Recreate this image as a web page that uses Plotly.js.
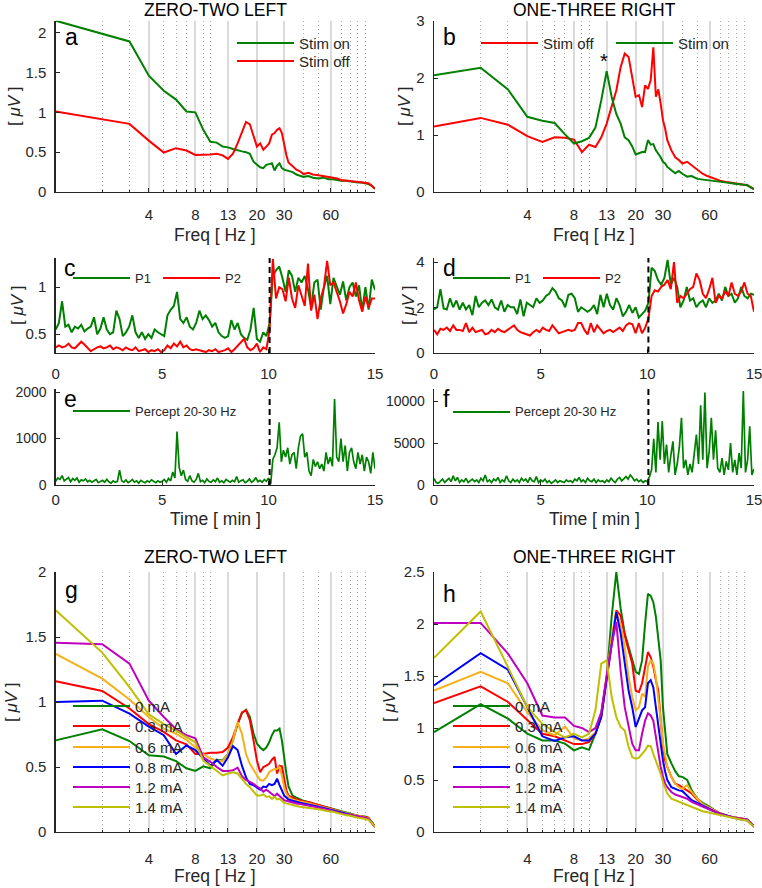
<!DOCTYPE html>
<html>
<head>
<meta charset="utf-8">
<script src="https://cdn.plot.ly/plotly-3.0.1.min.js"></script>
<style>html,body{margin:0;padding:0;background:#fff}#chart{width:762px;height:888px}</style>
</head>
<body>
<div id="chart"></div>
<script>
// ---------------- DATA ----------------
const freqHz = [1,2,3,4,5,6,7,8,9,10,11,12,13,14,15,16,17,18,19,20,21,22,23,24,25,26,27,28,29,30,31,32,
  34,36,38,40,43,46,50,54,58,62,66,70,75,80,85,90,95,100,105,110,116];
const freqTicks = [4,8,13,20,30,60];
const freqTickText = ['4','8','13','20','30','60'];
const freqMinorGrid = [2,3,5,6,7,9,10,40,50,70,80,90,100];
const timeTicks = [0,5,10,15];
const stimOnsetMin = 10.05;

// Panel a: ZERO-TWO LEFT
const leftStimOn = [2.15,1.98,1.89,1.46,1.27,1.16,1.01,1.00,0.78,0.63,
  0.62,0.57,0.56,0.54,0.52,0.51,0.50,0.48,0.38,0.34,
  0.31,0.30,0.34,0.35,0.36,0.27,0.33,0.36,0.30,0.28,
  0.27,0.26,0.25,0.22,0.20,0.19,0.20,0.18,0.17,0.18,
  0.16,0.16,0.15,0.14,0.14,0.13,0.13,0.12,0.12,0.11,
  0.10,0.08,0.04];
const leftStimOff = [1.01,0.91,0.855,0.645,0.495,0.55,0.52,0.465,0.465,0.47,
  0.48,0.46,0.415,0.48,0.61,0.76,0.88,0.85,0.72,0.57,
  0.61,0.53,0.57,0.61,0.72,0.74,0.78,0.80,0.74,0.59,
  0.465,0.37,0.32,0.28,0.26,0.225,0.24,0.22,0.21,0.20,
  0.19,0.18,0.17,0.15,0.145,0.14,0.135,0.13,0.12,0.115,
  0.11,0.085,0.04];
// Panel b: ONE-THREE RIGHT
const rightStimOff = [1.15,1.30,1.18,0.98,0.88,0.96,0.95,0.92,0.70,0.83,
  0.79,0.96,1.20,1.49,1.78,2.19,2.43,2.37,1.99,1.67,
  1.70,1.49,1.87,1.81,1.96,2.54,1.67,1.80,1.55,1.26,
  1.11,0.91,0.73,0.61,0.56,0.50,0.53,0.47,0.38,0.32,
  0.28,0.25,0.23,0.20,0.18,0.17,0.15,0.14,0.14,0.13,
  0.12,0.09,0.05];
const rightStimOn = [2.05,2.18,1.80,1.32,1.25,1.21,1.01,0.85,0.89,0.95,
  1.13,1.61,2.12,1.67,1.37,1.20,0.96,0.91,0.80,0.66,
  0.68,0.70,0.70,0.91,0.83,0.84,0.73,0.67,0.61,0.53,
  0.50,0.44,0.38,0.33,0.37,0.32,0.27,0.28,0.23,0.22,
  0.21,0.20,0.19,0.19,0.17,0.16,0.15,0.14,0.14,0.13,
  0.12,0.08,0.05];

// Panels c-f: time courses (sampling step given in traces)
const leftP1 = [0.55,0.62,0.85,0.58,0.60,0.52,0.58,0.56,0.60,0.53,
  0.56,0.58,0.68,0.50,0.56,0.68,0.55,0.50,0.52,0.75,
  0.66,0.48,0.52,0.58,0.70,0.52,0.46,0.52,0.45,0.50,
  0.46,0.55,0.52,0.50,0.48,0.70,0.76,0.80,0.95,0.66,
  0.62,0.68,0.58,0.55,0.62,0.75,0.66,0.70,0.65,0.58,
  0.62,0.52,0.48,0.46,0.48,0.65,0.55,0.62,0.50,0.46,
  0.44,0.55,0.78,0.45,0.42,0.52,0.48,0.62,1.12,1.18,
  1.22,1.10,0.95,1.18,1.12,0.95,1.10,1.05,1.12,0.98,
  0.78,1.05,1.08,0.76,1.00,1.12,0.82,1.10,1.02,0.92,
  1.06,0.86,1.00,1.05,0.90,1.02,0.75,1.00,0.76,1.08,
  0.97];
const leftP2 = [0.36,0.38,0.36,0.37,0.40,0.36,0.35,0.38,0.42,0.39,
  0.36,0.32,0.34,0.36,0.37,0.35,0.36,0.38,0.34,0.36,
  0.35,0.33,0.36,0.34,0.33,0.36,0.32,0.33,0.34,0.31,
  0.33,0.32,0.34,0.31,0.33,0.38,0.35,0.40,0.37,0.42,
  0.36,0.38,0.34,0.33,0.34,0.33,0.32,0.31,0.33,0.32,
  0.34,0.31,0.32,0.33,0.35,0.31,0.34,0.38,0.42,0.45,
  0.36,0.33,0.35,0.40,0.31,0.36,0.34,0.55,1.30,0.88,
  1.00,0.98,0.85,1.10,0.88,0.78,1.02,0.90,0.80,1.25,
  0.75,0.92,0.66,0.88,1.00,1.28,1.02,1.05,0.95,0.85,
  0.72,0.82,0.95,0.90,1.05,0.86,0.74,0.90,0.78,0.88,
  0.88];
const rightP1 = [1.90,2.00,2.80,1.95,1.90,2.40,2.00,2.30,1.90,2.20,
  1.90,2.10,1.65,2.50,2.00,2.20,2.30,2.10,2.35,2.00,
  1.90,2.30,1.80,2.10,2.00,2.00,1.70,2.35,1.60,2.20,
  2.10,2.00,2.40,2.20,2.30,2.50,2.60,2.85,2.70,2.40,
  2.30,2.00,2.55,2.60,2.40,1.80,2.00,1.90,1.80,1.90,
  2.10,1.70,2.55,2.00,2.60,2.10,1.90,2.40,2.10,1.60,
  1.80,2.10,1.75,2.00,1.55,1.70,1.85,2.20,3.75,3.60,
  3.20,3.00,3.30,4.10,3.00,3.30,2.90,2.00,2.30,2.90,
  2.30,2.40,2.00,2.20,2.30,2.00,2.40,2.20,2.30,2.60,
  2.30,2.90,2.50,2.60,2.20,2.40,2.90,2.50,2.40,2.60,
  2.55];
const rightP2 = [1.00,0.80,1.05,1.00,1.10,0.95,1.20,1.00,1.00,0.95,
  1.30,0.90,1.10,0.90,0.95,1.00,0.80,0.85,1.00,0.90,
  1.05,0.95,0.90,1.00,1.10,1.20,1.00,0.90,0.85,0.80,
  0.75,0.90,1.00,0.90,1.10,1.00,0.95,1.20,1.00,0.85,
  0.90,0.95,1.00,0.95,1.00,1.30,1.30,1.00,0.80,1.30,
  0.90,1.20,1.00,0.85,0.95,1.00,0.90,1.00,1.10,0.95,
  1.20,1.30,1.25,0.85,1.30,0.85,1.10,1.50,2.50,2.75,
  2.70,2.90,3.00,3.20,2.80,4.00,2.20,2.50,2.40,2.60,
  2.80,2.90,3.50,3.20,2.60,2.40,2.80,3.30,2.20,2.50,
  2.40,2.70,2.50,3.10,2.60,2.50,2.70,3.10,2.60,2.50,
  1.80];
const leftPercept = [80,150,120,200,90,130,160,70,140,100,
  150,60,110,90,130,70,100,60,90,120,
  50,80,100,60,120,70,40,90,60,80,
  320,90,60,110,50,80,120,60,90,40,
  100,70,50,90,60,110,70,50,90,60,
  80,120,60,140,90,280,150,1150,380,200,
  320,120,80,200,90,60,120,250,70,100,
  50,130,80,60,110,70,150,60,90,50,
  120,80,60,100,70,180,60,90,110,50,
  80,130,60,90,160,70,100,60,120,80,
  150,20,550,650,800,1350,500,750,600,800,
  450,650,700,350,800,1050,1100,600,700,300,
  200,550,400,500,350,450,300,700,450,600,
  400,1850,600,500,1000,500,850,300,700,800,
  500,350,700,450,650,300,600,500,250,700,
  350];
const rightPercept = [800,300,200,500,700,300,600,800,400,1100,
  500,900,300,600,400,800,300,500,700,400,
  600,300,800,500,1200,400,600,300,700,500,
  900,300,600,400,1100,500,300,700,400,600,
  300,800,500,700,300,900,500,400,1000,300,
  600,400,700,300,500,200,400,600,300,500,
  400,300,600,400,500,300,700,500,900,400,
  600,300,800,500,400,700,300,600,400,500,
  300,600,400,800,500,300,700,900,500,800,
  1000,700,1200,900,500,700,400,600,300,500,
  400,1000,1800,5500,1500,7500,3000,7600,2500,4800,
  1500,3500,5200,1200,2500,4500,8000,2000,3000,1200,
  2500,1500,3500,6000,2500,9500,3000,11000,2000,4000,
  8000,3000,6500,2000,1500,3200,1200,2800,1800,5000,
  1500,3000,1200,3800,2000,11200,1500,3000,7000,1200,
  1900];

// Panel g: ZERO-TWO LEFT, amplitudes
const ampLabels = ['0 mA','0.3 mA','0.6 mA','0.8 mA','1.2 mA','1.4 mA'];
const left0mA = [0.705,0.79,0.70,0.59,0.58,0.545,0.49,0.47,0.505,0.49,
  0.555,0.55,0.60,0.705,0.83,0.915,0.94,0.885,0.76,0.68,
  0.65,0.63,0.65,0.69,0.745,0.78,0.78,0.795,0.705,0.56,
  0.45,0.35,0.28,0.265,0.25,0.24,0.23,0.22,0.21,0.20,
  0.19,0.18,0.17,0.16,0.15,0.14,0.13,0.125,0.12,0.12,
  0.11,0.08,0.04];
const left03mA = [1.16,1.085,0.95,0.83,0.77,0.705,0.675,0.60,0.60,0.61,
  0.61,0.615,0.65,0.73,0.83,0.92,0.935,0.86,0.705,0.55,
  0.46,0.50,0.51,0.525,0.556,0.577,0.45,0.51,0.505,0.40,
  0.32,0.28,0.265,0.25,0.245,0.235,0.23,0.22,0.21,0.20,
  0.185,0.175,0.165,0.155,0.145,0.135,0.13,0.125,0.12,0.115,
  0.11,0.08,0.04];
const left06mA = [1.37,1.18,1.02,0.885,0.795,0.755,0.71,0.655,0.60,0.565,
  0.55,0.545,0.60,0.705,0.845,0.755,0.60,0.525,0.475,0.435,
  0.40,0.395,0.42,0.46,0.475,0.485,0.485,0.50,0.435,0.345,
  0.295,0.27,0.25,0.24,0.235,0.23,0.22,0.21,0.20,0.19,
  0.18,0.17,0.16,0.155,0.145,0.135,0.13,0.125,0.12,0.115,
  0.105,0.08,0.04];
const left08mA = [1.00,1.01,0.91,0.81,0.745,0.60,0.665,0.63,0.565,0.51,
  0.555,0.51,0.575,0.66,0.63,0.51,0.42,0.37,0.36,0.345,
  0.325,0.35,0.345,0.37,0.36,0.37,0.41,0.36,0.315,0.28,
  0.265,0.25,0.24,0.23,0.225,0.22,0.21,0.205,0.195,0.185,
  0.175,0.165,0.155,0.15,0.14,0.13,0.125,0.12,0.115,0.11,
  0.10,0.08,0.04];
const left12mA = [1.455,1.445,1.295,1.01,0.885,0.79,0.745,0.72,0.575,0.54,
  0.50,0.47,0.47,0.475,0.495,0.43,0.40,0.385,0.37,0.35,
  0.335,0.31,0.325,0.31,0.295,0.275,0.295,0.28,0.26,0.245,
  0.24,0.235,0.225,0.22,0.215,0.21,0.205,0.20,0.19,0.18,
  0.17,0.16,0.155,0.145,0.135,0.13,0.125,0.12,0.115,0.11,
  0.10,0.075,0.04];
const left14mA = [1.705,1.38,1.115,0.905,0.83,0.78,0.73,0.69,0.55,0.51,
  0.47,0.435,0.45,0.46,0.45,0.41,0.37,0.345,0.315,0.28,
  0.28,0.29,0.27,0.275,0.255,0.27,0.25,0.255,0.24,0.225,
  0.22,0.215,0.21,0.20,0.195,0.19,0.185,0.18,0.175,0.165,
  0.16,0.155,0.145,0.14,0.13,0.125,0.115,0.11,0.105,0.10,
  0.095,0.075,0.04];
// Panel h: ONE-THREE RIGHT, amplitudes
const right0mA = [0.96,1.23,1.09,0.945,0.88,0.88,0.85,0.785,0.815,0.79,
  0.945,1.14,1.49,2.07,2.50,2.15,1.91,1.78,1.65,1.54,
  1.52,1.65,2.00,2.29,2.27,2.21,2.07,1.875,1.65,1.20,
  0.945,0.75,0.66,0.585,0.535,0.53,0.50,0.40,0.32,0.28,
  0.255,0.225,0.20,0.18,0.165,0.15,0.14,0.135,0.13,0.125,
  0.12,0.09,0.055];
const right03mA = [1.24,1.40,1.25,1.075,0.945,0.92,0.88,0.845,0.845,0.865,
  0.945,1.105,1.49,1.84,2.13,2.08,1.89,1.75,1.62,1.36,
  1.345,1.43,1.59,1.73,1.68,1.59,1.46,1.36,1.075,0.82,
  0.69,0.625,0.53,0.465,0.45,0.43,0.40,0.37,0.31,0.265,
  0.245,0.22,0.20,0.18,0.16,0.15,0.14,0.135,0.13,0.125,
  0.115,0.09,0.05];
const right06mA = [1.36,1.54,1.43,1.15,0.98,0.93,1.015,0.90,0.88,0.90,
  0.96,1.14,1.49,1.875,2.115,2.00,1.78,1.49,1.30,1.17,
  1.20,1.33,1.30,1.59,1.65,1.62,1.49,1.30,1.075,0.85,
  0.72,0.625,0.53,0.465,0.43,0.415,0.45,0.385,0.32,0.27,
  0.245,0.22,0.20,0.18,0.16,0.15,0.14,0.135,0.13,0.125,
  0.115,0.09,0.05];
const right08mA = [1.41,1.72,1.56,1.20,0.92,0.875,0.91,0.92,0.88,0.88,
  0.945,1.105,1.46,1.78,2.115,1.91,1.62,1.36,1.20,1.01,
  1.09,1.17,1.20,1.43,1.46,1.39,1.20,1.01,0.82,0.69,
  0.58,0.50,0.43,0.415,0.40,0.395,0.35,0.305,0.28,0.255,
  0.225,0.21,0.19,0.175,0.16,0.15,0.14,0.13,0.125,0.12,
  0.11,0.085,0.05];
const right12mA = [2.01,2.01,1.715,1.43,1.12,1.10,1.10,1.02,1.00,0.96,
  1.00,1.15,1.50,1.80,2.02,1.55,1.20,1.01,0.85,0.785,
  0.785,0.945,1.07,1.14,1.12,1.07,0.91,0.75,0.625,0.53,
  0.465,0.43,0.385,0.36,0.35,0.335,0.32,0.29,0.27,0.245,
  0.225,0.21,0.19,0.175,0.16,0.15,0.14,0.135,0.13,0.13,
  0.12,0.09,0.05];
const right14mA = [1.675,2.12,1.585,1.20,1.04,0.96,0.91,0.945,0.91,0.945,
  1.17,1.62,1.65,1.30,1.105,1.01,0.975,0.82,0.72,0.705,
  0.715,0.75,0.785,0.83,0.825,0.75,0.69,0.625,0.56,0.48,
  0.415,0.37,0.32,0.305,0.29,0.28,0.255,0.24,0.22,0.20,
  0.19,0.18,0.17,0.16,0.15,0.14,0.13,0.125,0.12,0.115,
  0.11,0.08,0.05];

// ---------------- STYLE ----------------
const W = 762, H = 888;
const px = v => v / W;
const py = v => 1 - v / H;
const FONT = 'Liberation Sans, Arial, Helvetica, sans-serif';
const AX = '#262626';
const GREEN = '#008000', RED = '#ff0000', ORANGE = '#f5b01a', BLUE = '#0000ff', MAGENTA = '#c000c0', OLIVE = '#bfbf00';
const ampColors = [GREEN, RED, ORANGE, BLUE, MAGENTA, OLIVE];

function baseAxis(extra) {
  return Object.assign({
    showline: true, linecolor: AX, linewidth: 1.3, ticks: 'inside', ticklen: 4, tickwidth: 1, tickcolor: AX,
    showgrid: false, zeroline: false, tickfont: {family: FONT, size: 15, color: AX}, fixedrange: true,
    ticklabeloverflow: 'allow'
  }, extra);
}
function freqAxis(dom, anchor, standoff) {
  return baseAxis({
    type: 'log', domain: dom, anchor: anchor, range: [0, Math.log10(116)],
    tickmode: 'array', tickvals: freqTicks, ticktext: freqTickText,
    showgrid: true, gridcolor: '#dadada', gridwidth: 2, ticklabelstandoff: standoff,
    minor: {tickmode: 'array', tickvals: freqMinorGrid, ticks: 'inside', ticklen: 2.5, tickcolor: AX,
            showgrid: true, gridcolor: '#a8a8a8', gridwidth: 1, griddash: '1px,3px'}
  });
}
function timeAxis(dom, anchor, standoff) {
  return baseAxis({domain: dom, anchor: anchor, range: [0, 15], tickmode: 'array', tickvals: timeTicks, ticklabelstandoff: standoff});
}
function valAxis(dom, anchor, range, ticks, extra) {
  return baseAxis(Object.assign({domain: dom, anchor: anchor, range: range, tickmode: 'array', tickvals: ticks, ticklabelstandoff: 5}, extra || {}));
}

const XL = [px(55.7), px(375)], XR = [px(434), px(754)];

function line(x, y, xa, ya, color, w, name) {
  return {type: 'scatter', mode: 'lines', x: x, y: y, xaxis: xa, yaxis: ya, name: name,
          line: {color: color, width: w || 2}, showlegend: false, hoverinfo: 'skip'};
}
function tline(y, dx, xa, ya, color, w, name) {
  return {type: 'scatter', mode: 'lines', x0: 0, dx: dx, y: y, xaxis: xa, yaxis: ya, name: name,
          line: {color: color, width: w || 1.8}, showlegend: false, hoverinfo: 'skip'};
}

const traces = [
  line(freqHz, leftStimOn, 'x', 'y', GREEN, 2, 'Stim on'),
  line(freqHz, leftStimOff, 'x', 'y', RED, 2, 'Stim off'),
  line(freqHz, rightStimOff, 'x2', 'y2', RED, 2, 'Stim off'),
  line(freqHz, rightStimOn, 'x2', 'y2', GREEN, 2, 'Stim on'),
  tline(leftP1, 0.15, 'x3', 'y3', GREEN, 2, 'P1'),
  tline(leftP2, 0.15, 'x3', 'y3', RED, 2, 'P2'),
  tline(rightP1, 0.15, 'x4', 'y4', GREEN, 2, 'P1'),
  tline(rightP2, 0.15, 'x4', 'y4', RED, 2, 'P2'),
  tline(leftPercept, 0.1, 'x5', 'y5', GREEN, 1.7, 'Percept 20-30 Hz'),
  tline(rightPercept, 0.1, 'x6', 'y6', GREEN, 1.7, 'Percept 20-30 Hz')
];
const leftAmp = [left0mA, left03mA, left06mA, left08mA, left12mA, left14mA];
const rightAmp = [right0mA, right03mA, right06mA, right08mA, right12mA, right14mA];
leftAmp.forEach((s, i) => traces.push(line(freqHz, s, 'x7', 'y7', ampColors[i], 2, ampLabels[i])));
rightAmp.forEach((s, i) => traces.push(line(freqHz, s, 'x8', 'y8', ampColors[i], 2, ampLabels[i])));

// ---------------- ANNOTATIONS & SHAPES ----------------
const annotations = [];
const shapes = [];
function txt(text, x, y, size, opts) {
  annotations.push(Object.assign({text: text, xref: 'paper', yref: 'paper', x: px(x), y: py(y),
    showarrow: false, xanchor: 'center', yanchor: 'middle', font: {family: FONT, size: size, color: '#000'}}, opts || {}));
}
function legLine(x0, x1, y, color) {
  shapes.push({type: 'line', xref: 'paper', yref: 'paper', x0: px(x0), x1: px(x1), y0: py(y), y1: py(y),
    line: {color: color, width: 2}});
}
function legItem(x0, y, color, label, size) {
  legLine(x0, x0 + 57, y, color);
  txt(label, x0 + 60, y, size, {xanchor: 'left', font: {family: FONT, size: size, color: AX}});
}
// panel titles
txt('ZERO-TWO LEFT', 215, 10, 17.5, {font: {family: FONT, size: 17.5, color: '#000'}});
txt('ONE-THREE RIGHT', 594, 10, 17.5, {font: {family: FONT, size: 17.5, color: '#000'}});
txt('ZERO-TWO LEFT', 215, 556.5, 17.5, {font: {family: FONT, size: 17.5, color: '#000'}});
txt('ONE-THREE RIGHT', 594, 556.5, 17.5, {font: {family: FONT, size: 17.5, color: '#000'}});
// axis titles
const yt = '[ <i>μV</i> ]';
[[14, 106], [404, 106], [17, 305], [408, 305], [11, 702], [389, 702]].forEach(p =>
  txt(yt, p[0], p[1], 17, {textangle: -90, font: {family: FONT, size: 17, color: AX}}));
[[215, 234.5, 'Freq [ Hz ]'], [594, 234.5, 'Freq [ Hz ]'], [215, 519, 'Time [ min ]'], [594, 519, 'Time [ min ]'],
 [215, 876, 'Freq [ Hz ]'], [594, 876, 'Freq [ Hz ]']].forEach(p =>
  txt(p[2], p[0], p[1], 17.5, {font: {family: FONT, size: 17.5, color: AX}}));
// panel letters
[['a', 71, 36.5], ['b', 449, 36.5], ['c', 70, 268], ['d', 449.5, 267.5], ['e', 70, 399], ['f', 446, 399],
 ['g', 71, 590], ['h', 449, 593.5]].forEach(p => txt(p[0], p[1], p[2], 23));
// legends
legItem(237, 43, GREEN, 'Stim on', 15);
legItem(237, 61, RED, 'Stim off', 15);
legItem(481, 43, RED, 'Stim off', 15);
legItem(616, 43, GREEN, 'Stim on', 15);
legItem(73, 278, GREEN, 'P1', 13);
legItem(163, 278, RED, 'P2', 13);
legItem(453, 278, GREEN, 'P1', 13);
legItem(543, 278, RED, 'P2', 13);
legItem(73, 411, GREEN, 'Percept 20-30 Hz', 13);
legItem(453, 412, GREEN, 'Percept 20-30 Hz', 13);
const legY = [706, 726, 747, 767, 787, 807];
ampLabels.forEach((lab, i) => { legItem(73, legY[i], ampColors[i], lab, 15); legItem(453, legY[i], ampColors[i], lab, 15); });
// asterisk over 13 Hz peak
txt('*', 604, 61, 20);
// stimulation onset markers
[['x3', 'y3'], ['x4', 'y4'], ['x5', 'y5'], ['x6', 'y6']].forEach(a =>
  shapes.push({type: 'line', xref: a[0], yref: a[1] + ' domain', x0: stimOnsetMin, x1: stimOnsetMin, y0: 0, y1: 1,
               line: {color: '#000', width: 2, dash: '6px,4px'}}));

// ---------------- LAYOUT ----------------
const layout = {
  width: W, height: H, margin: {l: 0, r: 0, t: 0, b: 0}, paper_bgcolor: '#fff', plot_bgcolor: 'rgba(0,0,0,0)',
  showlegend: false, font: {family: FONT, color: AX},
  xaxis: freqAxis(XL, 'y', 9), yaxis: valAxis([py(192), py(20.7)], 'x', [0, 2.15], [0, 0.5, 1, 1.5, 2]),
  xaxis2: freqAxis(XR, 'y2', 9), yaxis2: valAxis([py(192), py(21)], 'x2', [0, 3], [0, 1, 2, 3]),
  xaxis3: timeAxis(XL, 'y3', 7), yaxis3: valAxis([py(353), py(258)], 'x3', [0.3, 1.31], [0.5, 1]),
  xaxis4: timeAxis(XR, 'y4', 7), yaxis4: valAxis([py(352.5), py(258)], 'x4', [0, 4.18], [0, 2, 4]),
  xaxis5: timeAxis(XL, 'y5', 1), yaxis5: valAxis([py(485), py(389)], 'x5', [0, 2065], [0, 1000, 2000], {tickformat: 'd', tickfont: {family: FONT, size: 14, color: AX}}),
  xaxis6: timeAxis(XR, 'y6', 1), yaxis6: valAxis([py(485), py(389)], 'x6', [0, 11430], [0, 5000, 10000], {tickformat: 'd', tickfont: {family: FONT, size: 14, color: AX}}),
  xaxis7: freqAxis(XL, 'y7', 13), yaxis7: valAxis([py(832), py(572)], 'x7', [0, 2], [0, 0.5, 1, 1.5, 2]),
  xaxis8: freqAxis(XR, 'y8', 13), yaxis8: valAxis([py(832), py(572)], 'x8', [0, 2.5], [0, 0.5, 1, 1.5, 2, 2.5]),
  annotations: annotations, shapes: shapes
};

Plotly.newPlot('chart', traces, layout, {staticPlot: true, displayModeBar: false});
</script>
</body>
</html>
